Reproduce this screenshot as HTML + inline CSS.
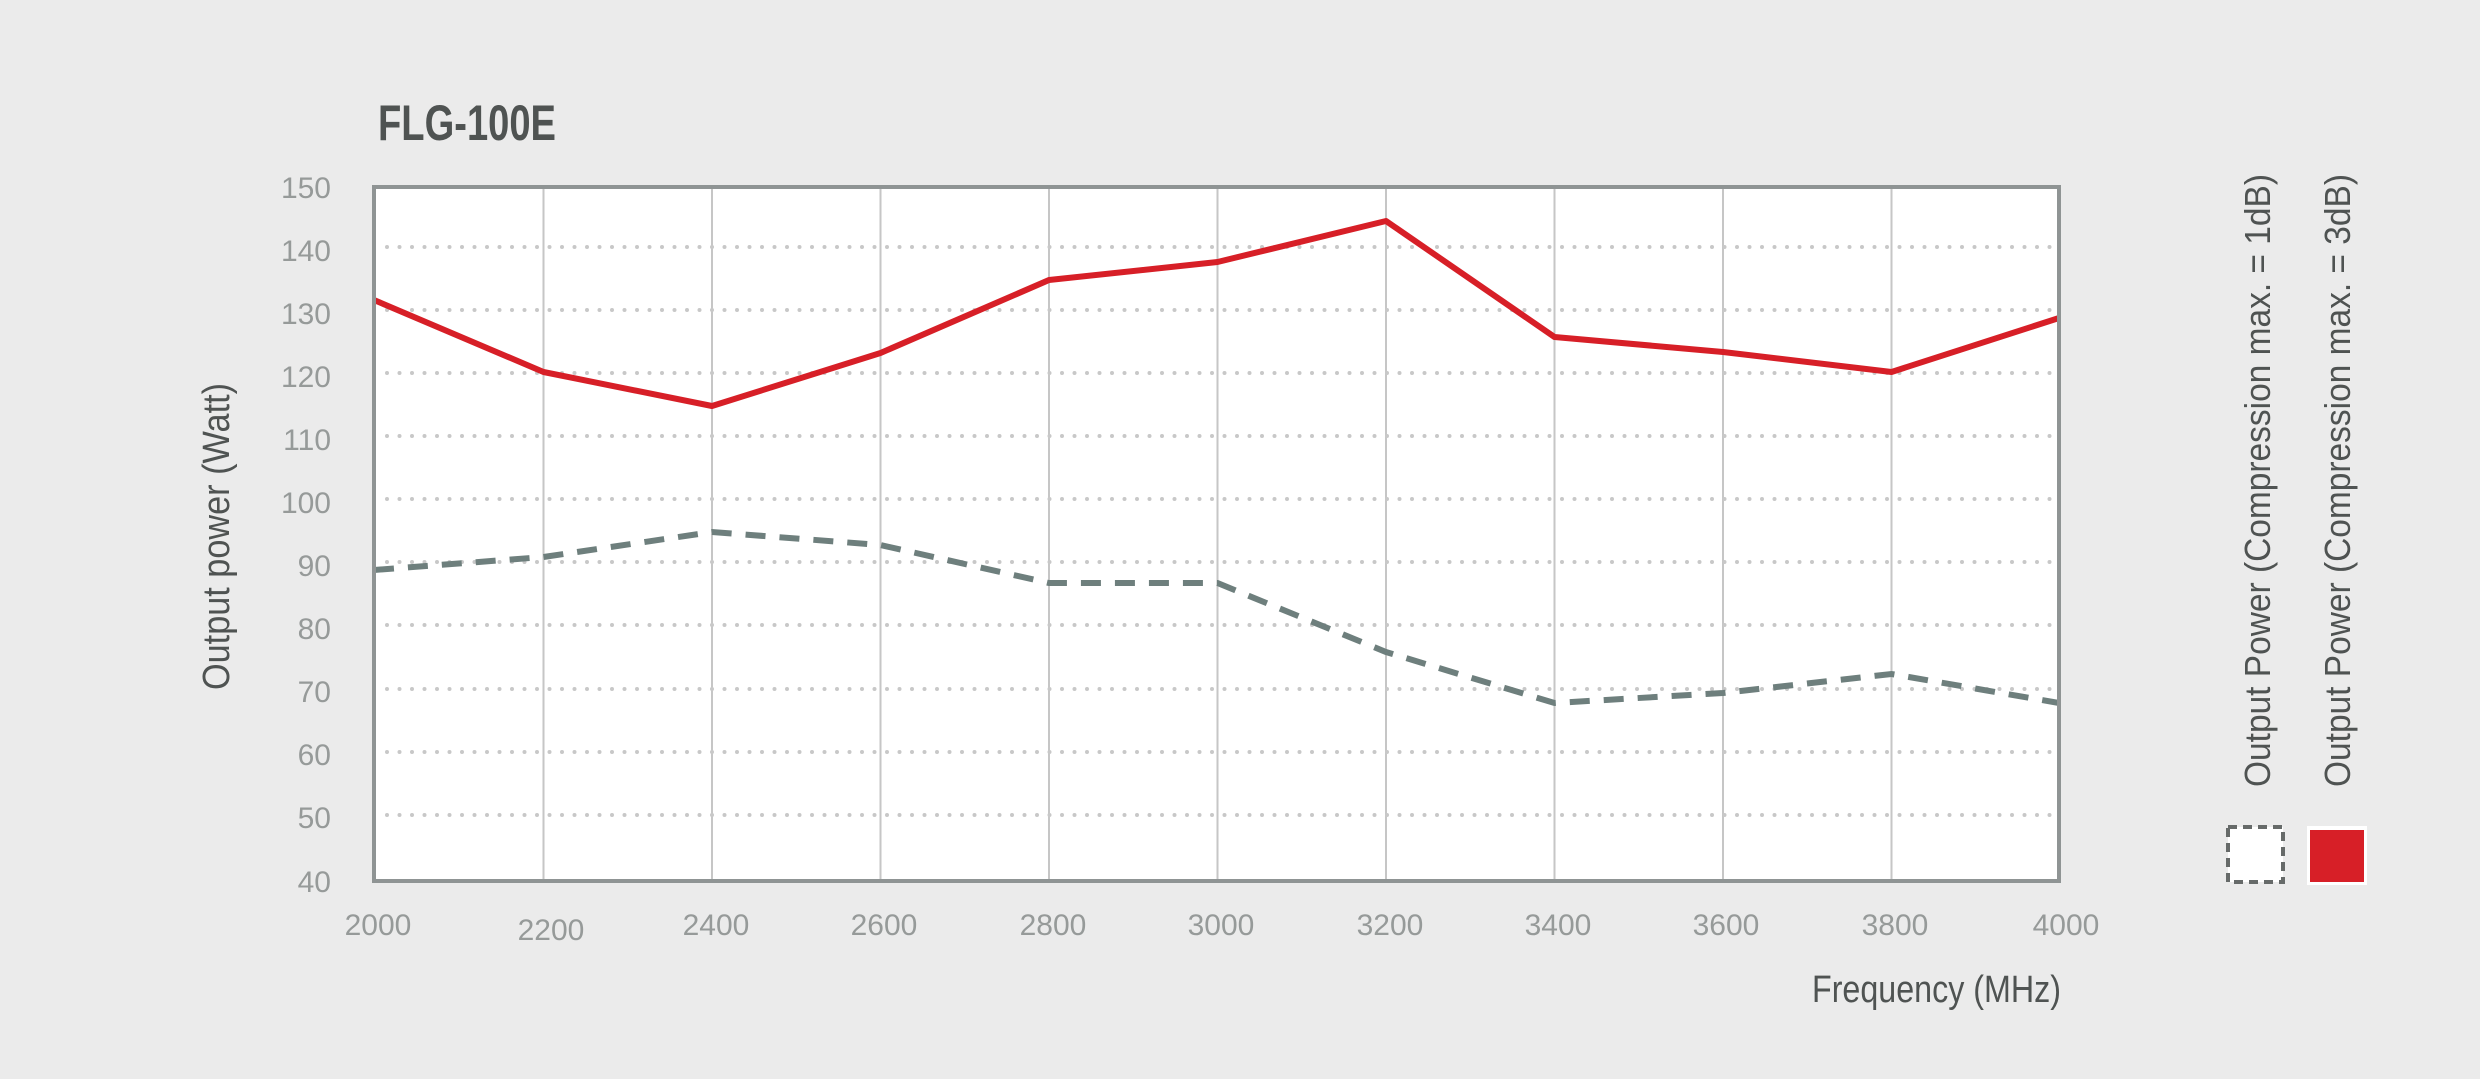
<!DOCTYPE html>
<html><head><meta charset="utf-8"><style>
html,body{margin:0;padding:0;background:#ebebeb;}
svg{display:block;font-family:"Liberation Sans Narrow","Liberation Sans",sans-serif;}
</style></head><body>
<svg width="2480" height="1079" viewBox="0 0 2480 1079" xmlns="http://www.w3.org/2000/svg">
<rect width="2480" height="1079" fill="#ebebeb"/>
<text x="378" y="140" font-size="50" font-weight="bold" fill="#4f5352" textLength="178" lengthAdjust="spacingAndGlyphs">FLG-100E</text>
<rect x="374" y="187" width="1685" height="694" fill="#fff"/>
<g stroke="#c6c6c6" stroke-width="2">
<line x1="543.5" y1="187" x2="543.5" y2="881"/><line x1="712" y1="187" x2="712" y2="881"/><line x1="880.5" y1="187" x2="880.5" y2="881"/><line x1="1049" y1="187" x2="1049" y2="881"/><line x1="1217.5" y1="187" x2="1217.5" y2="881"/><line x1="1386" y1="187" x2="1386" y2="881"/><line x1="1554.5" y1="187" x2="1554.5" y2="881"/><line x1="1723" y1="187" x2="1723" y2="881"/><line x1="1891.5" y1="187" x2="1891.5" y2="881"/>
</g>
<g stroke="#c8c8c8" stroke-width="4" stroke-linecap="round" stroke-dasharray="0 12.5">
<line x1="387" y1="247" x2="2050" y2="247"/><line x1="387" y1="310" x2="2050" y2="310"/><line x1="387" y1="373" x2="2050" y2="373"/><line x1="387" y1="436" x2="2050" y2="436"/><line x1="387" y1="499" x2="2050" y2="499"/><line x1="387" y1="562" x2="2050" y2="562"/><line x1="387" y1="625" x2="2050" y2="625"/><line x1="387" y1="689" x2="2050" y2="689"/><line x1="387" y1="752" x2="2050" y2="752"/><line x1="387" y1="815" x2="2050" y2="815"/>
</g>
<polyline fill="none" stroke="#6e7f7d" stroke-width="6" stroke-dasharray="20 14" points="374,570 543.5,557 712,532 880.5,545 1049,583 1217.5,583 1386,652 1554.5,703 1723,693 1891.5,674 2059,703"/>
<polyline fill="none" stroke="#d71f27" stroke-width="6" stroke-linejoin="round" points="374,300 543.5,372 712,406 880.5,353 1049,280 1217.5,262 1386,221 1554.5,337 1723,352 1891.5,372 2059,318"/>
<rect x="374" y="187" width="1685" height="694" fill="none" stroke="#8f9494" stroke-width="4"/>
<g font-size="30" fill="#969a99" text-anchor="end">
<text x="331" y="198">150</text><text x="331" y="261">140</text><text x="331" y="324">130</text><text x="331" y="387">120</text><text x="331" y="450">110</text><text x="331" y="513">100</text><text x="331" y="576">90</text><text x="331" y="639">80</text><text x="331" y="702">70</text><text x="331" y="765">60</text><text x="331" y="828">50</text><text x="331" y="892">40</text>
</g>
<g font-size="30" fill="#969a99" text-anchor="middle">
<text x="378" y="935">2000</text><text x="551" y="940">2200</text><text x="716" y="935">2400</text><text x="884" y="935">2600</text><text x="1053" y="935">2800</text><text x="1221" y="935">3000</text><text x="1390" y="935">3200</text><text x="1558" y="935">3400</text><text x="1726" y="935">3600</text><text x="1895" y="935">3800</text><text x="2066" y="935">4000</text>
</g>
<text x="1812" y="1002" font-size="38" fill="#4f5352" textLength="249" lengthAdjust="spacingAndGlyphs">Frequency (MHz)</text>
<text transform="translate(229,690) rotate(-90)" font-size="38" fill="#4f5352" textLength="307" lengthAdjust="spacingAndGlyphs">Output power (Watt)</text>
<text transform="translate(2270,787) rotate(-90)" font-size="36" fill="#4f5352" textLength="613" lengthAdjust="spacingAndGlyphs">Output Power (Compression max. = 1dB)</text>
<text transform="translate(2350,787) rotate(-90)" font-size="36" fill="#4f5352" textLength="613" lengthAdjust="spacingAndGlyphs">Output Power (Compression max. = 3dB)</text>
<rect x="2228" y="827" width="55" height="55" fill="#fff" stroke="#666a69" stroke-width="4" stroke-dasharray="9 6"/>
<rect x="2307" y="826" width="60" height="59" fill="#fff"/>
<rect x="2310" y="830" width="54" height="52" fill="#d71f27"/>
</svg>
</body></html>
